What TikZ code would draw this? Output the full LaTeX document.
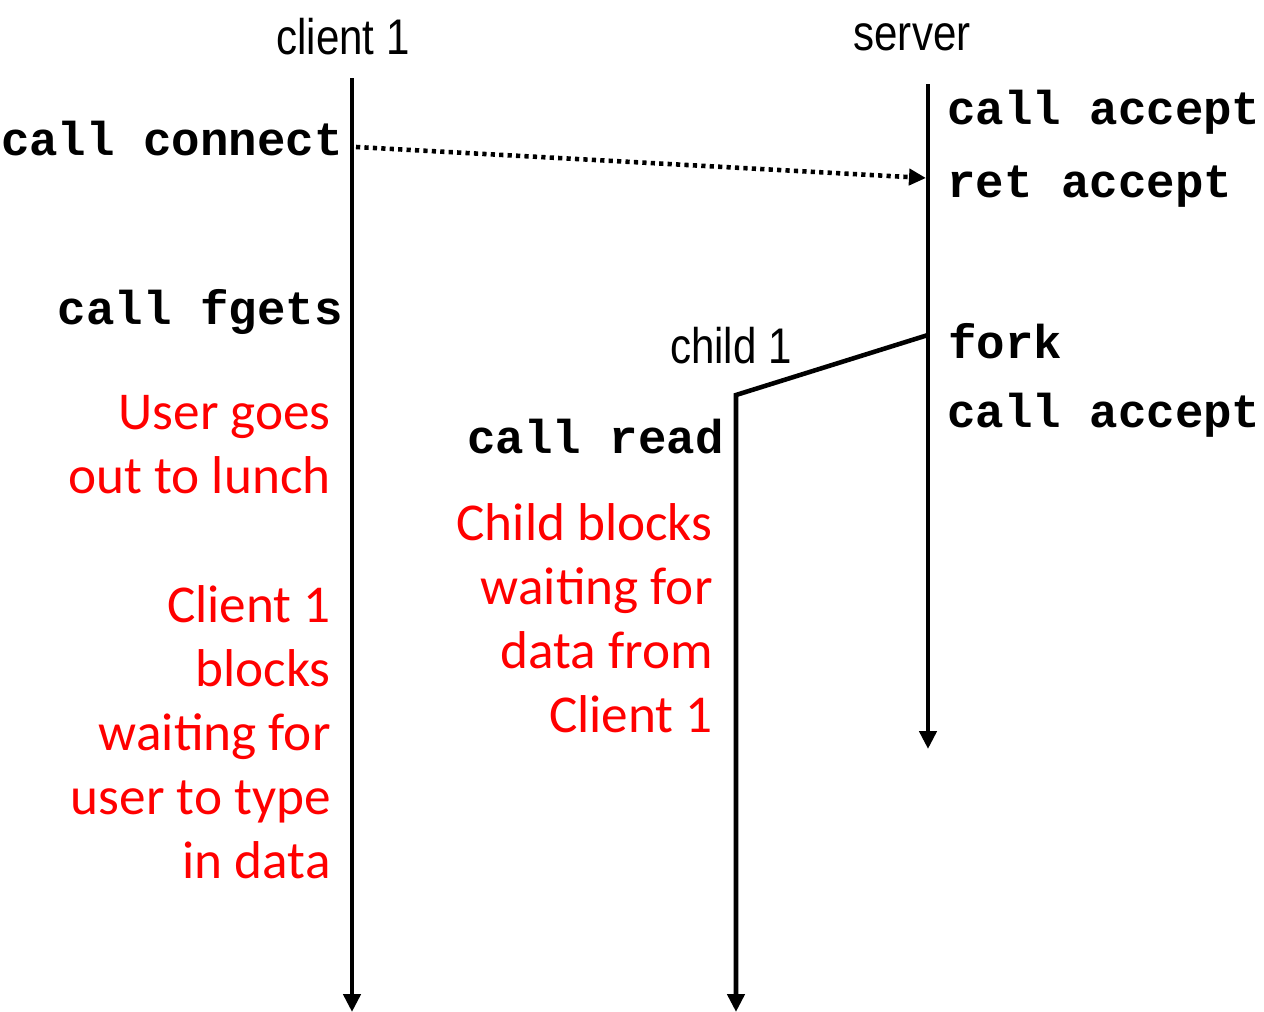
\documentclass[tikz,border=0pt]{standalone}
\usepackage{fontspec}
\usetikzlibrary{arrows.meta}
\newfontfamily\codefont{Liberation Mono}
\newfontfamily\notefont{Carlito}
\newfontfamily\procfont[FakeStretch=0.84]{Liberation Sans}
\tikzset{
  lifeline/.style={line width=2.6pt, -{Triangle[length=0.36cm,width=0.34cm]}},
  callnote/.style={inner sep=0pt, font=\codefont\bfseries\fontsize{27}{32}\selectfont},
  rednote/.style={inner sep=0pt, text=red, align=right, anchor=east,
    font=\notefont\fontsize{30.3}{36.5}\selectfont},
  procname/.style={inner sep=0pt, font=\procfont\fontsize{28.5}{34}\selectfont}
}
\begin{document}
\begin{tikzpicture}[x=0.02cm, y=-0.02cm]
    \useasboundingbox (0,0) rectangle (1264,1011);

    % Process names
    \node[procname] (client) at (343,37) {client 1};
    \node[procname] (server) at (912,37) {server};
    \node[procname] (child) at (731,346) {child 1};

    % Lifelines
    \coordinate (ctop) at (352,78);
    \coordinate (cbot) at (352,1012);
    \coordinate (stop) at (928,84);
    \coordinate (sbot) at (928,749);
    \coordinate (fork) at (928,335);
    \coordinate (ktop) at (736,395);
    \coordinate (kbot) at (736,1012);
    \draw[lifeline] (ctop) -- (cbot);
    \draw[lifeline] (stop) -- (sbot);
    \draw[lifeline] (fork) -- (ktop) -- (kbot);

    % Connect request
    \coordinate (conn) at (356,147);
    \coordinate (acc) at (926,178);
    \draw[line width=2.6pt, dash pattern=on 2.4pt off 2.4pt,
      -{Triangle[length=0.34cm,width=0.32cm]}] (conn) -- (acc);

    % Calls on each side
    \node[callnote, anchor=east] (connect) at (343,139) {call connect};
    \node[callnote, anchor=east] (fgets) at (343,312) {call fgets};
    \node[callnote, anchor=west] (accept1) at (947,112) {call accept};
    \node[callnote, anchor=west] (retacc) at (947,187) {ret accept};
    \node[callnote, anchor=west] (forkcall) at (948,341) {fork};
    \node[callnote, anchor=west] (accept2) at (947,415) {call accept};
    \node[callnote, anchor=east] (read) at (724,437) {call read};

    % Red notes
    \node[rednote] (lunch) at (331,445) {User goes\\out to lunch};
    \node[rednote] (cblock) at (331,732) {Client 1\\blocks\\waiting for\\user to type\\in data};
    \node[rednote] (kblock) at (713,618) {Child blocks\\waiting for\\data from\\Client 1};
\end{tikzpicture}
\end{document}
